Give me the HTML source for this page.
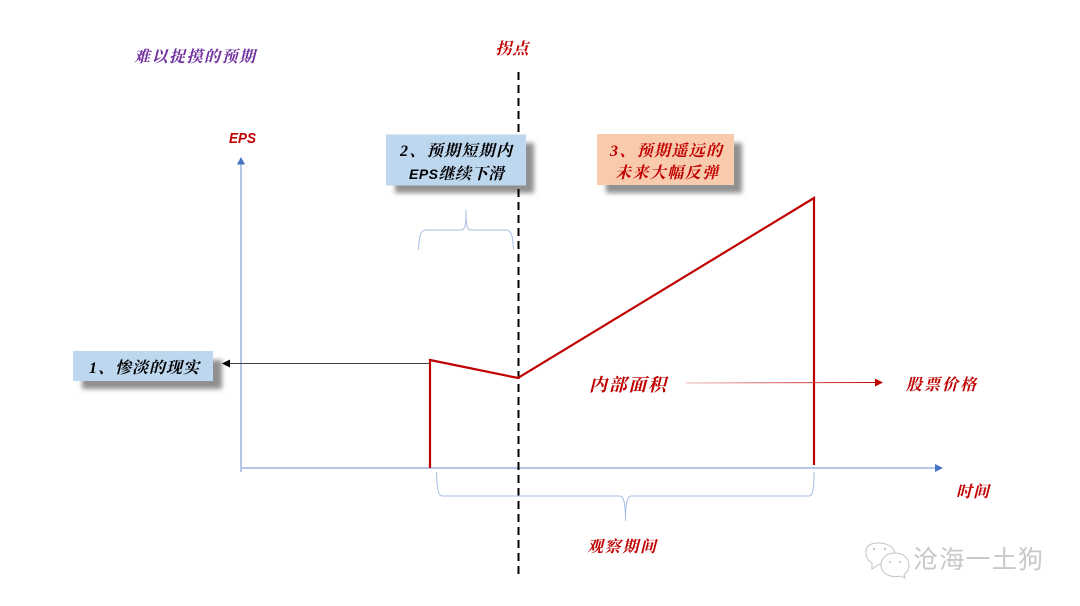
<!DOCTYPE html>
<html lang="zh">
<head>
<meta charset="utf-8">
<title>EPS 拐点</title>
<style>
html,body{margin:0;padding:0;background:#fff;width:1080px;height:606px;overflow:hidden}
svg{display:block}
text{font-family:"Liberation Serif","Noto Serif CJK SC",serif;font-style:italic;font-weight:700}
.s{font-family:"Liberation Sans",sans-serif;font-weight:700}
.wm{font-family:"Noto Sans CJK SC",sans-serif;font-style:normal;font-weight:400}
</style>
</head>
<body>
<svg width="1080" height="606" viewBox="0 0 1080 606" xmlns="http://www.w3.org/2000/svg">
<defs>
<filter id="b" x="-20%" y="-30%" width="140%" height="160%"><feGaussianBlur stdDeviation="2.4"/></filter>
<linearGradient id="fade" gradientUnits="userSpaceOnUse" x1="686" y1="0" x2="883" y2="0">
<stop offset="0" stop-color="#eeb4b4"/><stop offset="1" stop-color="#c00000"/>
</linearGradient>
</defs>

<!-- shadows -->
<rect x="82" y="360" width="140" height="29" fill="#909090" filter="url(#b)"/>
<rect x="395" y="143" width="139" height="50" fill="#909090" filter="url(#b)"/>
<rect x="606" y="143" width="136" height="50" fill="#909090" filter="url(#b)"/>

<!-- axes -->
<line x1="241" y1="472" x2="241" y2="163" stroke="#b4c7e7" stroke-width="2"/>
<polygon points="241,157 237,164.500 245,164.500" fill="#4472c4"/>
<line x1="241" y1="468" x2="936" y2="468" stroke="#b4c7e7" stroke-width="2"/>
<polygon points="943,468 935,464 935,472" fill="#4472c4"/>

<!-- dashed -->
<line x1="518.500" y1="72" x2="518.500" y2="575" stroke="#000" stroke-width="2" stroke-dasharray="8 5"/>

<!-- boxes -->
<rect x="73" y="351" width="140" height="30" fill="#bdd7ee"/>
<rect x="386" y="134.500" width="140" height="51" fill="#bdd7ee"/>
<rect x="597" y="134" width="137" height="51" fill="#f8cbad"/>

<!-- curve -->
<polyline points="430,468 430,360 518,378 814,198 814,465" fill="none" stroke="#c00000" stroke-width="2.200"/>

<!-- black arrow -->
<line x1="430" y1="363.500" x2="228" y2="363.500" stroke="#404040" stroke-width="1"/>
<polygon points="222,363.500 230,359.500 230,367.500" fill="#000"/>

<!-- red arrow -->
<line x1="686" y1="383" x2="877" y2="382.500" stroke="url(#fade)" stroke-width="1"/>
<polygon points="883,382.500 875,378.500 875,386.500" fill="#c00000"/>

<!-- braces -->
<path d="M418.500,250 C419,238 420,230 426,230 L461,230 C465,230 466,226 466,210 C466,226 467,230 471,230 L506,230 C512,230 513,238 513.500,250" fill="none" stroke="#a9c0e6" stroke-width="1"/>
<path d="M436.500,472 C437,488 438,496 442,496 L620,496 C624,496 625.500,504 625.500,521 C625.500,504 627,496 631,496 L809,496 C813,496 814,488 814,472" fill="none" stroke="#a9c0e6" stroke-width="1"/>

<!-- labels -->
<text x="134" y="62" font-size="16" fill="#7030a0" textLength="121">难以捉摸的预期</text>
<text x="495.500" y="54" font-size="16" fill="#c00000" textLength="33">拐点</text>
<text class="s" x="229" y="143" font-size="15" fill="#c00000" textLength="27" lengthAdjust="spacingAndGlyphs">EPS</text>

<text x="400" y="156" font-size="16" fill="#000" textLength="112">2、预期短期内</text>
<text x="409" y="179" font-size="16" fill="#000" textLength="95"><tspan class="s" font-size="14">EPS</tspan>继续下滑</text>
<text x="610" y="156" font-size="16" fill="#c00000" textLength="112">3、预期遥远的</text>
<text x="615" y="178" font-size="16" fill="#c00000" textLength="103">未来大幅反弹</text>
<text x="89" y="373" font-size="16" fill="#000" textLength="110">1、惨淡的现实</text>

<text x="589" y="391" font-size="18" fill="#c00000" textLength="77">内部面积</text>
<text x="906" y="390" font-size="16" fill="#c00000" textLength="70">股票价格</text>
<text x="956" y="497" font-size="16" fill="#c00000" textLength="33">时间</text>
<text x="587" y="552" font-size="16" fill="#c00000" textLength="69">观察期间</text>

<!-- watermark -->
<g fill="#fff" stroke="#c4c4c4" stroke-width="1">
<path d="M866,552 C866,544 873,543 879,543 C887,543 894,547 895,553 C889,553 882,558 882,564 L878,565 L872,569 L872,563 C868,561 866,557 866,552Z"/>
<path d="M881,565 C881,558 887,553 895,553 C903,553 909,558 909,565 C909,570 906,573 904,575 L905,578 L900,576 C893,578 881,575 881,565Z"/>
</g>
<g fill="#c4c4c4">
<circle cx="874" cy="549" r="1.200"/><circle cx="885" cy="549" r="1.200"/>
<circle cx="890" cy="562" r="1.100"/><circle cx="900" cy="562" r="1.100"/>
</g>
<text class="wm" x="913" y="568" font-size="25" fill="#c8c8c8" textLength="130">沧海一土狗</text>
</svg>
</body>
</html>
